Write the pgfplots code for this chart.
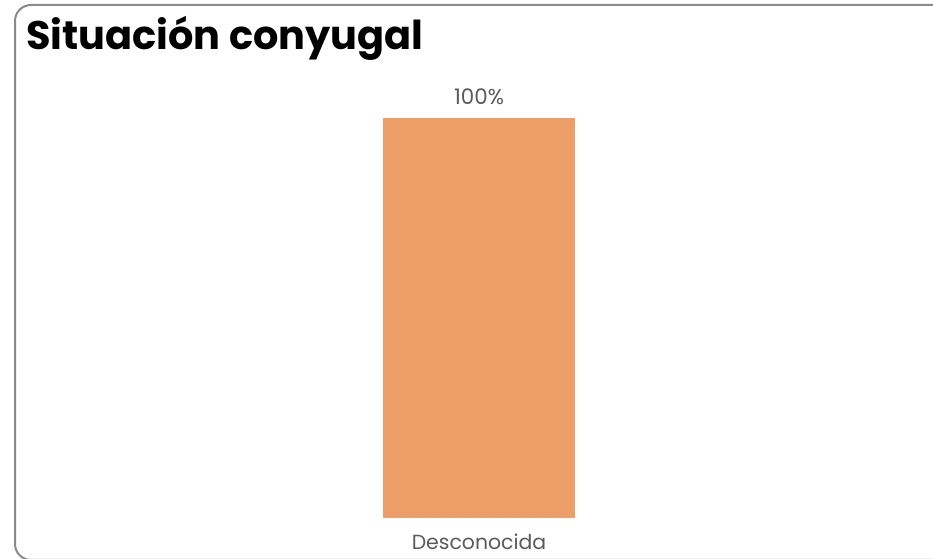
\documentclass[border=0pt]{standalone}
\usepackage{pgfplots}
\pgfplotsset{compat=1.18}
\usepackage{fontspec}
\setmainfont{Poppins}
\definecolor{barc}{HTML}{EE9E69}
\definecolor{lbl}{HTML}{5A5A5A}
\definecolor{frame}{HTML}{8A8A8A}
\begin{document}
\begin{tikzpicture}[x=1bp,y=1bp]
\path[use as bounding box] (0,0) rectangle (933,559);
\begin{scope}
\clip (0,0) rectangle (933,559);
\draw[color=frame, line width=2bp, rounded corners=16bp] (15,-1) rectangle (980,554);
\end{scope}
\node[anchor=base west, inner sep=0pt, font=\bfseries\fontsize{40}{40}\selectfont] at (26,509) {Situación conyugal};
\begin{axis}[
  at={(383bp,41bp)}, anchor=south west,
  scale only axis, width=192bp, height=400bp,
  xmin=-0.5, xmax=0.5, ymin=0, ymax=100,
  ybar, bar width=192bp,
  axis line style={draw=none}, tick style={draw=none},
  ytick=\empty, xtick={0}, xticklabels={Desconocida},
  xticklabel style={font=\fontsize{20.5}{20.5}\selectfont, text=lbl, yshift=-8bp},
  /pgf/number format/assume math mode=true,
  nodes near coords={\pgfmathprintnumber{\pgfplotspointmeta}\%},
  every node near coord/.append style={font=\fontsize{21.5}{21.5}\selectfont, text=lbl, yshift=10bp},
  clip=false,
]
\addplot[fill=barc, draw=none] coordinates {(0,100)};
\end{axis}
\end{tikzpicture}
\end{document}
